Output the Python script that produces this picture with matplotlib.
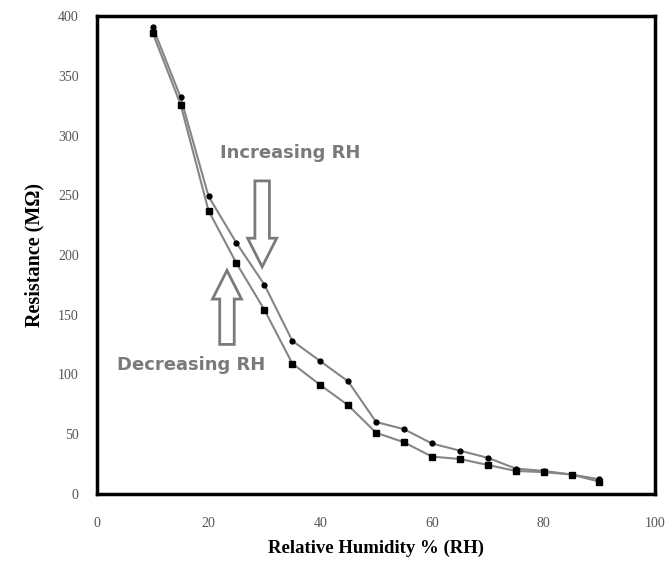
import matplotlib
matplotlib.use("Agg")
from matplotlib import pyplot as plt

# Datos
rh = [10, 15, 20, 25, 30, 35, 40, 45, 50, 55, 60, 65, 70, 75, 80, 85, 90]
res_increasing = [391, 332, 249, 210, 175, 128, 111, 94, 60, 54, 42, 36, 30, 21, 19, 16, 12]
res_decreasing = [386, 326, 237, 193, 154, 109, 91, 74, 51, 43, 31, 29, 24, 19, 18, 16, 10]

xticks = [0, 20, 40, 60, 80, 100]
yticks = [0, 50, 100, 150, 200, 250, 300, 350, 400]

fig = plt.figure(figsize=(6.68, 5.78), dpi=100)
ax = fig.add_axes([0.145, 0.146, 0.836, 0.826])

ax.plot(rh, res_increasing, color="#858585", lw=1.5, marker="o", ms=3.5,
        mfc="black", mec="black", zorder=3)
ax.plot(rh, res_decreasing, color="#858585", lw=1.5, marker="s", ms=5,
        mfc="black", mec="black", zorder=3)

# Anotaciones
ax.text(34.6, 285, "Increasing RH", color="#7a7a7a", fontsize=13,
        fontweight="bold", ha="center", va="center", family="DejaVu Sans")
ax.text(16.8, 108, "Decreasing RH", color="#7a7a7a", fontsize=13,
        fontweight="bold", ha="center", va="center", family="DejaVu Sans")
ax.arrow(29.6, 262, 0, -72, width=2.6, head_width=5.2, head_length=24,
         length_includes_head=True, fc="white", ec="#7a7a7a", lw=2, zorder=4)
ax.arrow(23.3, 125, 0, 62, width=2.6, head_width=5.2, head_length=24,
         length_includes_head=True, fc="white", ec="#7a7a7a", lw=2, zorder=4)

ax.set_xlim(0, 100)
ax.set_ylim(0, 400)
ax.set_xticks(xticks)
ax.set_yticks(yticks)
ax.tick_params(length=0, labelsize=10, labelcolor="#555555")
ax.tick_params(axis="x", pad=17)
ax.tick_params(axis="y", pad=13)
for lab in ax.get_xticklabels() + ax.get_yticklabels():
    lab.set_family("Liberation Serif")
for s in ax.spines.values():
    s.set_linewidth(2.5)

ax.set_xlabel("Relative Humidity % (RH)", family="Liberation Serif",
              fontweight="bold", fontsize=13.5, labelpad=7)
ax.set_ylabel("Resistance (M\u03a9)", family="Liberation Serif",
              fontweight="bold", fontsize=14.5, labelpad=10)

fig.savefig("out.png", dpi=100)
